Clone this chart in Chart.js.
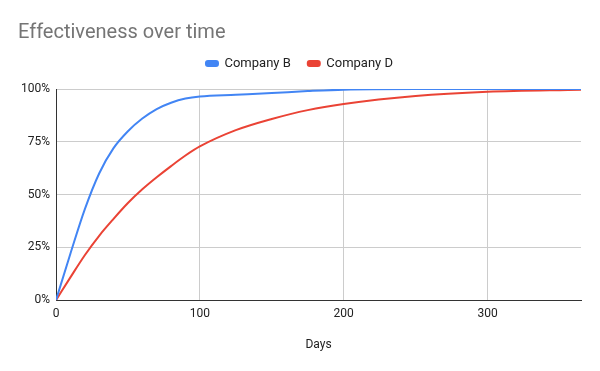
<!DOCTYPE html>
<html>
<head>
<meta charset="utf-8">
<script src="https://cdn.jsdelivr.net/npm/chart.js@4"></script>
<style>
    html, body { margin: 0; padding: 0; background: #ffffff; }
    #wrap { width: 600px; height: 371px; position: relative; }
</style>
</head>
<body>
<div id="wrap"><canvas id="effectChart"></canvas></div>
<script>
// Days sampled along the x axis
const days = [0, 10, 20, 30, 40, 50, 60, 70, 80, 90, 100, 125, 150, 175, 200, 250, 300, 365];

// Effectiveness (fraction of 1)
const companyB = [0, 0.22, 0.43, 0.60, 0.72, 0.80, 0.86, 0.905, 0.935, 0.955, 0.965, 0.973, 0.981, 0.99, 0.997, 1.0, 1.0, 1.0];
const companyD = [0, 0.108, 0.213, 0.305, 0.385, 0.46, 0.525, 0.582, 0.635, 0.685, 0.728, 0.805, 0.858, 0.90, 0.929, 0.967, 0.987, 0.997];

const yTicks = [0, 0.25, 0.5, 0.75, 1];
const xTicks = [0, 100, 200, 300];

const toPoints = (values) => days.map((d, i) => ({ x: d, y: values[i] }));

// Extra space under the legend before the plot area
const legendGap = {
    id: 'legendGap',
    beforeInit(chart) {
        const fit = chart.legend.fit;
        chart.legend.fit = function () {
            fit.bind(chart.legend)();
            this.height += 9;
        };
    }
};

document.addEventListener('DOMContentLoaded', () => {
    const font = 'Roboto, "Liberation Sans", Arial, sans-serif';
    const blue = '#4285f4';
    const red = '#ea4335';

    const ctx = document.getElementById('effectChart');
    new Chart(ctx, {
        type: 'line',
        data: {
            datasets: [{
                label: 'Company B',
                data: toPoints(companyB),
                borderColor: blue,
                backgroundColor: blue,
                borderWidth: 2,
                pointRadius: 0,
                cubicInterpolationMode: 'monotone'
            }, {
                label: 'Company D',
                data: toPoints(companyD),
                borderColor: red,
                backgroundColor: red,
                borderWidth: 2,
                pointRadius: 0,
                cubicInterpolationMode: 'monotone'
            }]
        },
        plugins: [legendGap],
        options: {
            responsive: true,
            maintainAspectRatio: false,
            animation: false,
            layout: {
                padding: { left: 18, right: 19, top: 0, bottom: 19 }
            },
            plugins: {
                title: {
                    display: true,
                    text: 'Effectiveness over time',
                    align: 'start',
                    color: '#757575',
                    font: { family: font, size: 20, weight: 'normal' },
                    padding: { top: 21, bottom: -5 }
                },
                legend: {
                    position: 'top',
                    align: 'center',
                    labels: {
                        color: '#222222',
                        font: { family: font, size: 13 },
                        boxWidth: 12,
                        boxHeight: 5,
                        useBorderRadius: true,
                        borderRadius: 2,
                        padding: 17
                    }
                },
                tooltip: { enabled: false }
            },
            scales: {
                x: {
                    type: 'linear',
                    min: 0,
                    max: 365,
                    afterBuildTicks: (axis) => {
                        axis.ticks = xTicks.map(v => ({ value: v }));
                    },
                    grid: {
                        color: '#cccccc',
                        drawTicks: false
                    },
                    border: { color: '#333333', width: 1 },
                    ticks: {
                        color: '#222222',
                        font: { family: font, size: 12 },
                        padding: 7,
                        maxRotation: 0
                    },
                    title: {
                        display: true,
                        text: 'Days',
                        color: '#222222',
                        font: { family: font, size: 12 },
                        padding: { top: 9, bottom: 0 }
                    }
                },
                y: {
                    min: 0,
                    max: 1,
                    afterBuildTicks: (axis) => {
                        axis.ticks = yTicks.map(v => ({ value: v }));
                    },
                    afterFit: (axis) => {
                        axis.width = 38;
                    },
                    grid: {
                        color: '#cccccc',
                        drawTicks: false
                    },
                    border: { color: '#333333', width: 1 },
                    ticks: {
                        color: '#222222',
                        font: { family: font, size: 12 },
                        padding: 6,
                        callback: (value) => Math.round(value * 100) + '%'
                    }
                }
            }
        }
    });
});
</script>
</body>
</html>
